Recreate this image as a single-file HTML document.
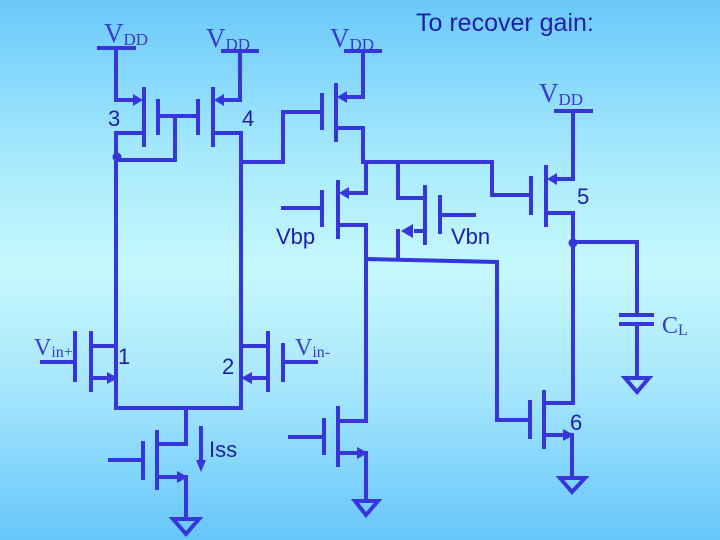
<!DOCTYPE html>
<html><head><meta charset="utf-8"><style>
html,body{margin:0;padding:0}
body{width:720px;height:540px;overflow:hidden;background:linear-gradient(to bottom,#6ac9fb 0%,#a8eafc 30%,#c6f8fd 50%,#a6e6fc 72%,#66c6fa 100%)}
svg{display:block}
</style></head><body>
<svg width="720" height="540" viewBox="0 0 720 540" xmlns="http://www.w3.org/2000/svg">
<g stroke="#3636da" stroke-width="4" fill="none" stroke-linecap="square">
<!-- VDD bars -->
<line x1="99" y1="48" x2="134" y2="48"/>
<line x1="223" y1="51" x2="257" y2="51"/>
<line x1="346" y1="51" x2="380" y2="51"/>
<line x1="556" y1="111" x2="591" y2="111"/>
<!-- M3 -->
<polyline points="116,48 116,100 136,100"/>
<line x1="144" y1="89" x2="144" y2="145"/>
<line x1="158" y1="101" x2="158" y2="133"/>
<polyline points="144,133 116,133 116,408"/>
<polyline points="116,160 175,160 175,116"/>
<line x1="158" y1="116" x2="198" y2="116"/>
<!-- M4 -->
<line x1="198" y1="101" x2="198" y2="133"/>
<line x1="213" y1="89" x2="213" y2="145"/>
<polyline points="221,100 240,100 240,51"/>
<polyline points="213,133 241,133 241,408"/>
<!-- M7 -->
<polyline points="241,162 283,162 283,112 322,112"/>
<line x1="322" y1="95" x2="322" y2="128"/>
<line x1="336" y1="85" x2="336" y2="140"/>
<polyline points="344,97 363,97 363,51"/>
<polyline points="336,128 363,128 363,162"/>
<!-- node line -->
<polyline points="363,162 492,162 492,195 531,195"/>
<!-- M9 -->
<line x1="283" y1="208" x2="322" y2="208"/>
<line x1="322" y1="192" x2="322" y2="225"/>
<line x1="338" y1="182" x2="338" y2="237"/>
<polyline points="346,193 366,193 366,162"/>
<polyline points="338,225 366,225 366,421 338,421"/>
<!-- M8 -->
<polyline points="398,162 398,198 425,198"/>
<line x1="425" y1="187" x2="425" y2="243"/>
<line x1="440" y1="197" x2="440" y2="232"/>
<line x1="440" y1="215" x2="474" y2="215"/>
<polyline points="416,231 425,231"/>
<line x1="398" y1="231" x2="398" y2="259"/>
<polyline points="366,259 497,262 497,420 530,420"/>
<!-- M5 -->
<line x1="531" y1="178" x2="531" y2="213"/>
<line x1="546" y1="167" x2="546" y2="225"/>
<polyline points="554,179 573,179 573,111"/>
<polyline points="546,213 573,213 573,403 544,403"/>
<polyline points="573,242 637,242 637,315"/>
<!-- CL -->
<line x1="621" y1="315" x2="652" y2="315"/>
<line x1="621" y1="324" x2="652" y2="324"/>
<line x1="637" y1="324" x2="637" y2="377"/>
<!-- M6 -->
<line x1="530" y1="402" x2="530" y2="437"/>
<line x1="544" y1="392" x2="544" y2="447"/>
<polyline points="544,435 564,435"/>
<line x1="572" y1="435" x2="572" y2="477"/>
<!-- M1 -->
<line x1="116" y1="346" x2="91" y2="346"/>
<line x1="91" y1="333" x2="91" y2="390"/>
<line x1="75" y1="333" x2="75" y2="380"/>
<line x1="42" y1="362" x2="75" y2="362"/>
<polyline points="91,378 108,378"/>
<polyline points="116,378 116,408 241,408"/>
<!-- M2 -->
<line x1="241" y1="346" x2="268" y2="346"/>
<line x1="268" y1="333" x2="268" y2="390"/>
<line x1="283" y1="345" x2="283" y2="380"/>
<line x1="283" y1="362" x2="316" y2="362"/>
<polyline points="250,378 268,378"/>
<line x1="241" y1="378" x2="241" y2="408"/>
<!-- tail -->
<polyline points="186,408 186,444 157,444"/>
<line x1="157" y1="432" x2="157" y2="488"/>
<line x1="143" y1="443" x2="143" y2="478"/>
<line x1="110" y1="460" x2="143" y2="460"/>
<polyline points="157,477 178,477"/>
<line x1="186" y1="477" x2="186" y2="518"/>
<line x1="201" y1="428" x2="201" y2="462"/>
<!-- M10 -->
<line x1="338" y1="408" x2="338" y2="465"/>
<line x1="324" y1="420" x2="324" y2="453"/>
<line x1="290" y1="437" x2="324" y2="437"/>
<polyline points="338,453 358,453"/>
<line x1="366" y1="453" x2="366" y2="500"/>
<!-- grounds -->
<polygon points="173,519 199,519 186,534"/>
<polygon points="355,501 378,501 366,515"/>
<polygon points="560,478 585,478 572,492"/>
<polygon points="625,378 649,378 637,392"/>
</g>
<g fill="#3636da">
<polygon points="143,100 133,94 133,106"/>
<polygon points="214,100 224,94 224,106"/>
<polygon points="337,97 347,91 347,103"/>
<polygon points="339,193 349,187 349,199"/>
<polygon points="547,179 557,173 557,185"/>
<polygon points="401,231 413,224 413,238"/>
<polygon points="118,378 107,372 107,384"/>
<polygon points="241,378 252,372 252,384"/>
<polygon points="188,477 177,471 177,483"/>
<polygon points="368,453 357,447 357,459"/>
<polygon points="574,435 563,429 563,441"/>
<polygon points="201,472 196,460 206,460"/>
<circle cx="117" cy="157" r="4.5"/>
<circle cx="573" cy="243" r="4.5"/>
</g>
<g font-family="'Liberation Serif',serif" fill="#3a3ad2">
<text x="104" y="42" font-size="27">V<tspan font-size="17" dy="3">DD</tspan></text>
<text x="206" y="47" font-size="27">V<tspan font-size="17" dy="3">DD</tspan></text>
<text x="330" y="47" font-size="27">V<tspan font-size="17" dy="3">DD</tspan></text>
<text x="539" y="102" font-size="27">V<tspan font-size="17" dy="3">DD</tspan></text>
<text x="34" y="355" font-size="24">V<tspan font-size="16" dy="2">in+</tspan></text>
<text x="295" y="355" font-size="24">V<tspan font-size="16" dy="2">in-</tspan></text>
<text x="662" y="333" font-size="24">C<tspan font-size="16" dy="2">L</tspan></text>
</g>
<g font-family="'Liberation Sans',sans-serif" fill="#1e1ea8" font-size="22">
<text x="416" y="31" font-size="25">To recover gain:</text>
<text x="108" y="126">3</text>
<text x="242" y="126">4</text>
<text x="577" y="204">5</text>
<text x="570" y="430">6</text>
<text x="118" y="364">1</text>
<text x="222" y="374">2</text>
<text x="276" y="244">Vbp</text>
<text x="451" y="244">Vbn</text>
<text x="209" y="457">Iss</text>
</g>
</svg>
</body></html>
